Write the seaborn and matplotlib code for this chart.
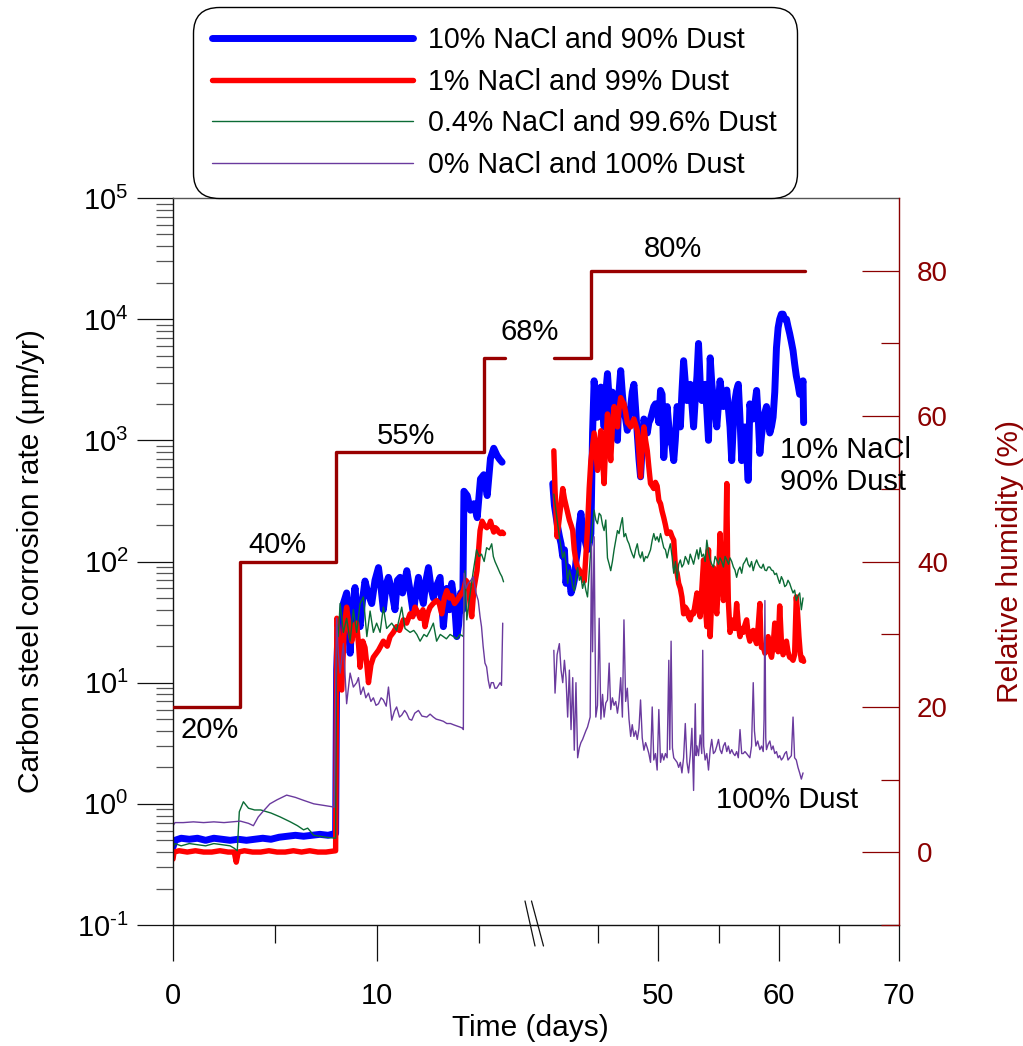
import numpy as np
import matplotlib
matplotlib.use("Agg")
import matplotlib.pyplot as plt
import seaborn as sns
from matplotlib.lines import Line2D
from matplotlib.ticker import FixedLocator, NullFormatter, FuncFormatter

# ---------------- data (time in days, corrosion rate in um/yr) ----------------
blue_left = [(0, 0.44), (0.1, 0.50), (0.4, 0.52), (0.8, 0.51), (1.2, 0.52), (1.6, 0.50), (2.0, 0.52), (2.4, 0.51),
             (2.8, 0.50), (3.2, 0.51), (3.6, 0.50), (4.0, 0.51), (4.4, 0.52), (4.8, 0.51), (5.2, 0.53), (5.6, 0.54),
             (6.0, 0.55), (6.4, 0.54), (6.8, 0.55), (7.2, 0.56), (7.6, 0.55), (7.97, 0.57),
             (8.02, 12.7), (8.1, 30), (8.19, 19.5), (8.35, 45), (8.51, 55), (8.68, 17.5), (8.8, 40), (8.92, 61),
             (9.05, 35), (9.17, 29), (9.3, 50), (9.41, 69), (9.55, 55), (9.74, 45), (9.9, 70), (10.07, 89),
             (10.2, 60), (10.31, 40), (10.45, 65), (10.56, 74), (10.7, 60), (10.88, 40), (11.0, 70), (11.13, 74),
             (11.25, 55), (11.46, 84), (11.6, 60), (11.78, 37), (11.9, 55), (12.03, 74), (12.15, 55), (12.27, 45),
             (12.4, 70), (12.52, 89), (12.65, 60), (12.76, 50), (12.9, 62), (13.09, 74), (13.25, 29), (13.42, 60),
             (13.55, 40), (13.66, 66), (13.8, 45), (13.91, 24), (14.0, 30), (14.1, 55), (14.2, 40), (14.26, 380),
             (14.42, 350), (14.58, 265), (14.75, 300), (14.91, 230), (15.07, 480), (15.23, 520), (15.4, 350),
             (15.56, 710), (15.72, 860), (15.88, 750), (16.0, 700), (16.13, 660)]

red_left = [(0, 0.35), (0.05, 0.40), (0.3, 0.41), (0.7, 0.40), (1.1, 0.41), (1.5, 0.40), (1.9, 0.40), (2.3, 0.41),
            (2.7, 0.40), (3.0, 0.40), (3.1, 0.33), (3.2, 0.40), (3.5, 0.41), (3.9, 0.40), (4.3, 0.40), (4.7, 0.41),
            (5.1, 0.40), (5.5, 0.40), (5.9, 0.41), (6.3, 0.40), (6.7, 0.41), (7.1, 0.40), (7.5, 0.40), (7.97, 0.41),
            (8.03, 34), (8.1, 26), (8.27, 8.7), (8.4, 30), (8.51, 42), (8.64, 28), (8.76, 22), (8.9, 30), (9.0, 31),
            (9.1, 20), (9.17, 13.4), (9.3, 22), (9.41, 19.5), (9.5, 14), (9.58, 10), (9.7, 14), (9.82, 16.2),
            (10.07, 18.5), (10.31, 22), (10.5, 20), (10.64, 24), (10.8, 26), (10.96, 29), (11.1, 27), (11.29, 33),
            (11.45, 31), (11.62, 37), (11.75, 35), (11.86, 42), (12.0, 38), (12.11, 34), (12.25, 40), (12.35, 29),
            (12.5, 38), (12.6, 42), (12.75, 45), (12.92, 47.6), (13.05, 45), (13.17, 37), (13.3, 50), (13.42, 57.5),
            (13.55, 50), (13.66, 52), (13.8, 45), (13.91, 47.6), (14.05, 52), (14.23, 57), (14.35, 70), (14.47, 66),
            (14.56, 45), (14.64, 35), (14.75, 60), (14.9, 84), (15.05, 180), (15.15, 215), (15.25, 200),
            (15.38, 190), (15.5, 200), (15.56, 215), (15.65, 190), (15.72, 175), (15.8, 190), (15.88, 185),
            (15.96, 175), (16.05, 170), (16.13, 175), (16.2, 170)]

green_left = [(0, 0.43), (0.1, 0.47), (0.4, 0.45), (0.8, 0.47), (1.2, 0.46), (1.6, 0.45), (2.0, 0.47), (2.4, 0.46),
              (2.8, 0.45), (3.0, 0.43), (3.15, 0.41), (3.25, 0.86), (3.45, 1.04), (3.7, 0.92), (4.0, 0.89),
              (4.3, 0.89), (4.8, 0.84), (5.25, 0.78), (5.75, 0.71), (6.1, 0.66), (6.4, 0.61), (6.6, 0.63),
              (6.9, 0.55), (7.2, 0.54), (7.5, 0.53), (7.97, 0.52),
              (8.02, 30), (8.1, 24), (8.19, 45), (8.35, 26), (8.51, 34), (8.68, 22), (8.84, 40), (9.0, 26),
              (9.17, 45), (9.33, 51), (9.5, 24), (9.66, 39), (9.82, 26), (9.98, 31), (10.15, 26), (10.31, 42),
              (10.47, 28), (10.72, 31), (10.96, 27), (11.21, 42), (11.37, 28), (11.62, 26), (11.8, 27), (11.95, 25),
              (12.11, 22), (12.3, 25), (12.44, 24), (12.6, 27), (12.76, 31), (12.92, 22), (13.1, 25), (13.25, 24),
              (13.4, 23), (13.58, 25), (13.75, 24), (13.91, 23), (14.07, 25), (14.23, 24), (14.31, 84), (14.4, 33),
              (14.47, 42), (14.6, 60), (14.72, 84), (14.88, 125), (15.0, 110), (15.12, 115), (15.25, 100),
              (15.37, 130), (15.5, 125), (15.62, 140), (15.7, 110), (15.78, 100), (15.9, 90), (16.03, 80),
              (16.12, 75), (16.2, 68)]

purple_left = [(0, 0.66), (0.1, 0.70), (0.5, 0.70), (1.0, 0.71), (1.5, 0.70), (2.0, 0.71), (2.5, 0.70), (2.9, 0.71),
               (3.3, 0.72), (3.7, 0.69), (3.94, 0.66), (4.18, 0.78), (4.45, 0.88), (4.75, 1.0), (5.1, 1.08),
               (5.57, 1.18), (6.0, 1.13), (6.39, 1.07), (6.9, 1.0), (7.4, 0.97), (7.9, 0.94),
               (8.02, 34), (8.1, 18), (8.19, 12), (8.35, 21), (8.51, 6.7), (8.68, 12), (8.84, 9.2), (9.0, 10),
               (9.09, 11), (9.2, 8), (9.33, 9.2), (9.45, 7.5), (9.58, 8.2), (9.7, 7), (9.82, 7.5), (9.95, 6.5),
               (10.07, 6.7), (10.2, 7.5), (10.31, 7.2), (10.45, 6.4), (10.56, 9.2), (10.72, 4.9), (10.85, 5.8),
               (10.96, 6.3), (11.1, 5.2), (11.21, 5.4), (11.35, 5.9), (11.45, 5.6), (11.58, 5.0), (11.7, 4.9),
               (11.85, 5.6), (12.03, 5.9), (12.2, 5.3), (12.44, 5.2), (12.6, 5.5), (12.76, 5.2), (12.9, 5.0),
               (13.09, 4.9), (13.25, 4.8), (13.42, 4.6), (13.6, 4.6), (13.74, 4.5), (13.9, 4.4), (14.07, 4.3),
               (14.2, 4.2), (14.23, 4.1), (14.26, 80), (14.36, 60), (14.47, 66), (14.6, 70), (14.72, 75),
               (14.85, 55), (14.96, 47.6), (15.05, 35), (15.12, 29), (15.2, 20), (15.29, 14.5), (15.37, 13.5),
               (15.45, 10.5), (15.53, 9.0), (15.6, 10), (15.7, 10), (15.78, 9), (15.86, 9.0), (15.95, 9.5),
               (16.03, 10), (16.1, 9.5), (16.16, 31)]

blue_right = [(41.21, 440), (41.35, 290), (41.5, 230), (41.63, 190), (41.77, 160), (41.9, 140), (42.04, 110),
              (42.18, 125), (42.31, 66), (42.45, 90), (42.59, 75), (42.73, 55), (42.87, 61), (43.0, 70), (43.14, 100),
              (43.28, 125), (43.42, 200), (43.55, 250), (43.69, 190), (43.83, 160), (43.96, 140), (44.1, 125),
              (44.25, 140), (44.38, 170), (44.52, 1150), (44.65, 3100), (44.79, 2000), (44.93, 1550), (45.07, 2200),
              (45.21, 2750), (45.35, 1800), (45.48, 1290), (45.62, 2500), (45.76, 3550), (45.9, 2200), (46.03, 1600),
              (46.17, 2500), (46.31, 1900), (46.45, 1400), (46.59, 1000), (46.72, 2500), (46.86, 3760), (47.0, 2400),
              (47.13, 1770), (47.27, 1500), (47.41, 1210), (47.55, 1600), (47.69, 1900), (47.82, 2500), (47.96, 2900),
              (48.1, 1800), (48.24, 1100), (48.38, 700), (48.51, 500), (48.65, 900), (48.79, 1500), (48.93, 1300),
              (49.07, 1150), (49.2, 1400), (49.34, 1500), (49.48, 1700), (49.61, 1900), (49.75, 2000), (49.89, 1800),
              (50.03, 1400), (50.17, 2580), (50.3, 2400), (50.44, 720), (50.58, 1200), (50.72, 1900), (50.86, 1300),
              (50.99, 1000), (51.13, 900), (51.27, 680), (51.4, 1000), (51.55, 1900), (51.68, 1600), (51.82, 1290),
              (51.95, 2500), (52.09, 4540), (52.23, 3000), (52.37, 2130), (52.5, 2500), (52.64, 2900), (52.78, 2000),
              (52.92, 1290), (53.06, 2200), (53.2, 3400), (53.33, 6300), (53.47, 3000), (53.61, 2130), (53.75, 2600),
              (53.88, 2900), (54.02, 1800), (54.16, 1000), (54.3, 4800), (54.43, 3000), (54.57, 2130), (54.71, 1700),
              (54.85, 1290), (54.99, 2000), (55.12, 3100), (55.26, 2400), (55.4, 1900), (55.54, 2200), (55.68, 2600),
              (55.82, 1800), (55.95, 1290), (56.09, 680), (56.23, 1400), (56.36, 2130), (56.5, 2600), (56.64, 2900),
              (56.78, 1500), (56.92, 680), (57.05, 1100), (57.19, 1290), (57.33, 800), (57.46, 467), (57.6, 2000),
              (57.74, 1600), (57.88, 1500), (58.02, 2000), (58.16, 2580), (58.3, 1500), (58.43, 780), (58.57, 1100),
              (58.71, 1400), (58.85, 1700), (58.98, 1900), (59.12, 1500), (59.26, 1150), (59.4, 1300), (59.53, 1550),
              (59.67, 2500), (59.81, 5800), (59.95, 8500), (60.08, 10000), (60.22, 11000), (60.36, 11000),
              (60.5, 10000), (60.64, 10000), (60.77, 8700), (60.91, 7600), (61.05, 6500), (61.19, 5500),
              (61.32, 4300), (61.46, 3400), (61.6, 2900), (61.74, 2400), (61.88, 2600), (62.02, 3100), (62.07, 1400)]

red_right = [(41.3, 820), (41.4, 387), (41.57, 160), (41.76, 230), (42.04, 400), (42.18, 330), (42.31, 290),
             (42.45, 250), (42.59, 220), (42.73, 200), (42.87, 180), (43.0, 125), (43.14, 100), (43.28, 89),
             (43.42, 85), (43.55, 80), (43.69, 75), (43.83, 69), (43.96, 110), (44.1, 190), (44.24, 400),
             (44.38, 680), (44.52, 900), (44.65, 1150), (44.79, 800), (44.93, 565), (45.07, 900), (45.21, 1200),
             (45.35, 700), (45.48, 440), (45.62, 1000), (45.76, 1650), (45.9, 1000), (46.03, 680), (46.17, 1300),
             (46.31, 1900), (46.45, 1600), (46.59, 1290), (46.72, 1800), (46.86, 2250), (47.0, 2100), (47.13, 2000),
             (47.27, 1700), (47.41, 1400), (47.55, 1350), (47.69, 1290), (47.82, 1400), (47.96, 1500), (48.1, 1350),
             (48.24, 1200), (48.38, 800), (48.51, 500), (48.65, 900), (48.79, 1290), (48.93, 1000), (49.07, 820),
             (49.2, 600), (49.34, 440), (49.48, 420), (49.61, 400), (49.75, 450), (49.89, 420), (50.03, 320),
             (50.17, 300), (50.3, 260), (50.44, 230), (50.58, 200), (50.72, 170), (50.86, 175), (50.99, 175),
             (51.13, 160), (51.27, 150), (51.41, 89), (51.55, 80), (51.68, 66), (51.82, 60), (51.95, 51), (52.09, 37),
             (52.23, 42), (52.37, 40), (52.5, 35), (52.64, 33), (52.78, 38), (52.92, 37), (53.06, 45), (53.2, 55),
             (53.33, 40), (53.47, 35), (53.61, 60), (53.75, 103), (53.88, 45), (54.02, 29), (54.09, 80), (54.16, 125),
             (54.23, 50), (54.3, 24), (54.43, 50), (54.57, 89), (54.71, 45), (54.85, 37), (54.99, 70), (55.12, 170),
             (55.26, 80), (55.4, 47.6), (55.54, 60), (55.68, 440), (55.75, 100), (55.81, 47), (55.95, 26), (56.09, 30),
             (56.23, 33), (56.36, 28), (56.5, 45), (56.64, 30), (56.78, 24), (56.92, 28), (57.05, 26), (57.19, 30),
             (57.33, 33), (57.46, 25), (57.6, 22), (57.74, 26), (57.88, 27), (58.02, 23), (58.16, 21), (58.3, 30),
             (58.43, 45), (58.5, 25), (58.57, 19.5), (58.71, 20), (58.85, 17.5), (58.98, 20), (59.12, 24),
             (59.26, 18), (59.4, 16.2), (59.53, 20), (59.67, 31), (59.81, 20), (59.95, 18), (60.02, 30), (60.08, 43),
             (60.22, 22), (60.36, 17), (60.5, 19), (60.64, 22), (60.77, 18), (60.91, 16.2), (61.05, 16), (61.19, 15.3),
             (61.32, 17), (61.46, 51), (61.55, 40), (61.68, 24), (61.78, 18), (61.88, 15.3), (61.98, 16), (62.07, 15)]

green_right = [(41.3, 360), (41.4, 300), (41.5, 250), (41.63, 200), (41.76, 160), (41.9, 130), (42.04, 107),
               (42.18, 120), (42.31, 97), (42.45, 66), (42.59, 85), (42.73, 75), (42.87, 62), (43.0, 57), (43.14, 75),
               (43.28, 89), (43.42, 70), (43.55, 75), (43.69, 60), (43.83, 69), (43.96, 58), (44.1, 51), (44.24, 80),
               (44.38, 125), (44.52, 200), (44.65, 265), (44.79, 220), (44.93, 205), (45.07, 250), (45.21, 240),
               (45.35, 200), (45.48, 180), (45.62, 220), (45.76, 107), (45.9, 95), (46.03, 84), (46.17, 100),
               (46.31, 125), (46.45, 150), (46.59, 180), (46.72, 170), (46.86, 200), (47.0, 230), (47.13, 160),
               (47.27, 170), (47.41, 150), (47.55, 140), (47.69, 125), (47.82, 115), (47.96, 107), (48.1, 125),
               (48.24, 140), (48.38, 115), (48.51, 107), (48.65, 120), (48.79, 100), (48.93, 110), (49.07, 107),
               (49.2, 115), (49.34, 125), (49.48, 150), (49.61, 170), (49.75, 150), (49.89, 160), (50.03, 145),
               (50.17, 170), (50.3, 150), (50.44, 130), (50.58, 125), (50.72, 107), (50.86, 125), (50.99, 140),
               (51.13, 110), (51.27, 80), (51.41, 100), (51.55, 70), (51.68, 95), (51.82, 103), (51.95, 90),
               (52.09, 95), (52.23, 110), (52.37, 103), (52.5, 95), (52.64, 115), (52.78, 105), (52.92, 95),
               (53.06, 110), (53.2, 125), (53.33, 105), (53.47, 130), (53.61, 110), (53.75, 115), (53.88, 100),
               (54.02, 150), (54.16, 120), (54.3, 103), (54.43, 95), (54.57, 90), (54.71, 110), (54.85, 103),
               (54.99, 95), (55.12, 107), (55.26, 100), (55.4, 90), (55.54, 110), (55.68, 103), (55.82, 95),
               (55.95, 107), (56.09, 100), (56.23, 90), (56.36, 85), (56.5, 74), (56.64, 85), (56.78, 90), (56.92, 80),
               (57.05, 95), (57.19, 100), (57.33, 107), (57.46, 95), (57.6, 90), (57.74, 100), (57.88, 84),
               (58.02, 95), (58.16, 103), (58.3, 95), (58.43, 90), (58.57, 88), (58.71, 95), (58.85, 85), (58.98, 84),
               (59.12, 90), (59.26, 90), (59.4, 85), (59.53, 84), (59.67, 78), (59.81, 80), (59.95, 72), (60.08, 66),
               (60.22, 75), (60.36, 70), (60.5, 62), (60.64, 64), (60.77, 70), (60.91, 66), (61.05, 60), (61.19, 55),
               (61.32, 58), (61.46, 47.6), (61.6, 52), (61.74, 55), (61.88, 40), (62.02, 50)]

purple_right = [(41.3, 18.5), (41.4, 8.2), (41.57, 17), (41.76, 21), (41.9, 12.7), (42.04, 10), (42.18, 15.3),
                (42.31, 11), (42.45, 5.2), (42.59, 12.7), (42.73, 4.1), (42.87, 11), (43.0, 2.77), (43.14, 10),
                (43.28, 2.4), (43.42, 2.9), (43.55, 3.2), (43.69, 3.4), (43.83, 3.7), (43.96, 4.0), (44.1, 4.3),
                (44.32, 5.2), (44.43, 140), (44.52, 18), (44.65, 160), (44.79, 5.2), (44.93, 6.5), (45.07, 34),
                (45.21, 5.0), (45.35, 8.0), (45.48, 5.2), (45.62, 6.8), (45.76, 7.2), (45.9, 14.5), (46.03, 6),
                (46.17, 7.5), (46.31, 6.5), (46.45, 7), (46.59, 5.6), (46.72, 7), (46.86, 11), (47.0, 5.2),
                (47.13, 33), (47.27, 7), (47.41, 9), (47.55, 5), (47.69, 3.6), (47.82, 4.5), (47.96, 3.6), (48.1, 4.0),
                (48.24, 3.4), (48.38, 4.2), (48.51, 7.2), (48.65, 3.5), (48.79, 2.77), (48.93, 3.2), (49.07, 2.9),
                (49.2, 2.6), (49.34, 2.2), (49.48, 6.3), (49.61, 2.3), (49.75, 2.6), (49.89, 1.9), (50.03, 6),
                (50.17, 2.2), (50.3, 2.6), (50.44, 2.3), (50.58, 2.6), (50.72, 2.4), (50.86, 15.3), (50.94, 2.8),
                (51.05, 22), (51.16, 2.9), (51.27, 2.4), (51.41, 2.3), (51.55, 2.2), (51.68, 2.0), (51.82, 2.2),
                (51.95, 1.8), (52.09, 2.4), (52.23, 4.6), (52.37, 2.2), (52.5, 1.8), (52.64, 2.5), (52.78, 4.2),
                (52.92, 1.29), (53.06, 6.7), (53.13, 2.5), (53.2, 3.0), (53.33, 2.5), (53.47, 3.7), (53.6, 2.6),
                (53.68, 18.5), (53.76, 3.0), (53.88, 2.3), (54.02, 2.6), (54.16, 1.9), (54.3, 2.8), (54.43, 3.4),
                (54.57, 2.6), (54.71, 2.7), (54.85, 3.0), (54.99, 3.4), (55.12, 2.8), (55.26, 2.6), (55.4, 3.0),
                (55.54, 3.2), (55.68, 2.7), (55.81, 3.0), (55.95, 2.6), (56.09, 2.8), (56.23, 2.6), (56.36, 2.5),
                (56.5, 2.7), (56.64, 2.4), (56.78, 4.1), (56.92, 2.6), (57.05, 2.6), (57.19, 2.7), (57.33, 2.6),
                (57.46, 2.5), (57.6, 2.4), (57.74, 3.0), (57.88, 10), (57.98, 4.0), (58.1, 3.0), (58.25, 3.3),
                (58.43, 2.8), (58.57, 3.0), (58.71, 2.7), (58.78, 5), (58.85, 47.6), (58.92, 3.5), (58.98, 2.8),
                (59.12, 3.1), (59.26, 3.3), (59.4, 2.8), (59.53, 3.0), (59.67, 2.6), (59.81, 2.7), (59.95, 2.4),
                (60.08, 2.5), (60.22, 2.3), (60.36, 2.4), (60.5, 2.6), (60.64, 2.7), (60.77, 2.3), (60.91, 2.4),
                (61.05, 2.5), (61.19, 5.2), (61.32, 2.4), (61.46, 2.3), (61.6, 2.0), (61.74, 1.8), (61.88, 1.6),
                (62.02, 1.8)]

# relative humidity steps (%)
rh_t_left = [0, 3.28, 7.99, 15.25, 16.27]
rh_left = [20, 40, 55, 68, 68]
rh_t_right = [41.32, 44.38, 62.15]
rh_right = [68, 80, 80]

series_labels = ["10% NaCl and 90% Dust", "1% NaCl and 99% Dust",
                 "0.4% NaCl and 99.6% Dust", "0% NaCl and 100% Dust"]
series_colors = ["#0000FF", "#FF0000", "#0B6B35", "#6A3A9E"]
series_widths = [5.0, 3.9, 1.0, 1.0]

left_ticks = [0, 10]
right_ticks = [50, 60, 70]
rate_ticks = [1e-1, 1e0, 1e1, 1e2, 1e3, 1e4, 1e5]
rh_ticks = [0, 20, 40, 60, 80]

# ---------------- style ----------------
sns.set_style("ticks")
plt.rcParams["font.family"] = ["Liberation Sans", "DejaVu Sans"]
plt.rcParams["mathtext.fontset"] = "custom"
plt.rcParams["mathtext.rm"] = "Liberation Sans"
plt.rcParams["mathtext.it"] = "Liberation Sans:italic"
plt.rcParams["mathtext.bf"] = "Liberation Sans:bold"
plt.rcParams["axes.unicode_minus"] = False
for key in ("text.color", "axes.labelcolor", "xtick.color", "ytick.color", "axes.edgecolor"):
    plt.rcParams[key] = "black"

DARKRED = "#8B0000"
RHLINE = "#990000"
W, H = 1023, 1046
fig = plt.figure(figsize=(W / 100, H / 100), dpi=100)


def fx(px):
    return px / W


def fy(py):
    return 1 - py / H


X0, XB, X1 = 173, 537, 899
Y0, Y1 = 198, 925
axL = fig.add_axes([fx(X0), fy(Y1), (XB - X0) / W, (Y1 - Y0) / H])
axR = fig.add_axes([fx(XB), fy(Y1), (X1 - XB) / W, (Y1 - Y0) / H])

left_sets = [blue_left, red_left, green_left, purple_left]
right_sets = [blue_right, red_right, green_right, purple_right]
for ax, sets in ((axL, left_sets), (axR, right_sets)):
    for data, col, lw in zip(sets, series_colors, series_widths):
        t, v = zip(*data)
        sns.lineplot(x=list(t), y=list(v), ax=ax, color=col, linewidth=lw, estimator=None,
                     sort=False, legend=False, solid_capstyle="round", solid_joinstyle="round")
    ax.set_yscale("log")
    ax.set_ylim(0.1, 1e5)

axL.set_xlim(0, 17.84)
axR.set_xlim(39.9, 70)

# relative humidity twin axes
rhL = axL.twinx()
rhR = axR.twinx()
sns.lineplot(x=rh_t_left, y=rh_left, ax=rhL, color=RHLINE, linewidth=2.4, drawstyle="steps-post",
             estimator=None, sort=False, legend=False)
sns.lineplot(x=rh_t_right, y=rh_right, ax=rhR, color=RHLINE, linewidth=2.4, drawstyle="steps-post",
             estimator=None, sort=False, legend=False)
for a in (rhL, rhR):
    a.set_ylim(-10, 90)
    a.set_ylabel("")
    a.set_xlabel("")
rhL.axis("off")
rhL.set_xlim(axL.get_xlim())
rhR.set_xlim(axR.get_xlim())

# ---------------- axes decoration ----------------
for ax in (axL, axR):
    ax.set_xlabel("")
    ax.set_ylabel("")
    for s in ax.spines.values():
        s.set_linewidth(1.0)
        s.set_color("#111111")
    ax.tick_params(axis="x", which="major", direction="out", length=26, width=0.9, color="#111111",
                   labelsize=21, pad=15, top=False)
    ax.tick_params(axis="x", which="minor", direction="out", length=13, width=0.9, color="#111111",
                   top=False)
axL.spines["top"].set_color("#555555")
axR.spines["top"].set_color("#555555")

axL.spines["right"].set_visible(False)
axR.spines["left"].set_visible(False)
axR.spines["right"].set_visible(False)

axL.xaxis.set_major_locator(FixedLocator(left_ticks))
axL.xaxis.set_minor_locator(FixedLocator([5, 15]))
axR.xaxis.set_major_locator(FixedLocator(right_ticks))
axR.xaxis.set_minor_locator(FixedLocator([45, 55, 65]))
axL.set_xticklabels([str(t) for t in left_ticks])
axR.set_xticklabels([str(t) for t in right_ticks])

minor_rate = [m * d for d in rate_ticks[:-1] for m in range(2, 10)]
axL.yaxis.set_major_locator(FixedLocator(rate_ticks))
axL.yaxis.set_minor_locator(FixedLocator(minor_rate))
axL.yaxis.set_minor_formatter(NullFormatter())
axL.yaxis.set_major_formatter(FuncFormatter(
    lambda v, p: r"$10^{\text{%d}}$" % int(round(np.log10(v)))))
axL.tick_params(axis="y", which="major", direction="out", length=26, width=0.9, color="#111111",
                labelsize=21, pad=6, right=False)
axL.tick_params(axis="y", which="minor", direction="out", length=12.5, width=0.9, color="#555555", right=False)
axR.yaxis.set_major_locator(FixedLocator(rate_ticks))
axR.yaxis.set_minor_locator(FixedLocator(minor_rate))
axR.tick_params(axis="y", which="both", left=False, right=False, labelleft=False, labelright=False)

for s in ("left", "top", "bottom"):
    rhR.spines[s].set_visible(False)
rhR.spines["right"].set_color(DARKRED)
rhR.spines["right"].set_linewidth(1.0)
rhR.yaxis.set_major_locator(FixedLocator(rh_ticks))
rhR.yaxis.set_minor_locator(FixedLocator([-10, 10, 30, 50, 70]))
rhR.set_yticklabels([str(t) for t in rh_ticks])
rhR.tick_params(axis="y", which="major", direction="in", length=26.5, width=0.9, color=DARKRED,
                labelcolor=DARKRED, labelsize=20, pad=13)
rhR.tick_params(axis="y", which="minor", direction="in", length=13, width=0.9, color=DARKRED)

axL.set_ylabel("Carbon steel corrosion rate (\u03bcm/yr)", fontsize=21.5)
axL.yaxis.set_label_coords(-0.352, 0.5)
rhR.set_ylabel("Relative humidity (%)", fontsize=21.5, color=DARKRED)
rhR.yaxis.set_label_coords(1.268, 0.5)
fig.text(fx(530), fy(1028), "Time (days)", fontsize=21.5, ha="center", va="center")

# axis break marks
for x_a, x_b in ((525, 535), (531.5, 543.5)):
    fig.add_artist(Line2D([fx(x_a), fx(x_b)], [fy(901), fy(946)], color="#111111", lw=0.9))

# annotations
annos = [("20%", 210, 730), ("40%", 277, 545), ("55%", 406, 436), ("68%", 530, 332), ("80%", 673, 249)]
for txt, px, py in annos:
    fig.text(fx(px), fy(py), txt, fontsize=21, ha="center", va="center")
fig.text(fx(780), fy(466), "10% NaCl\n90% Dust", fontsize=21, ha="left", va="center", linespacing=1.15)
fig.text(fx(787), fy(800), "100% Dust", fontsize=21, ha="center", va="center")

# legend
handles = [Line2D([], [], color=c, lw=w, solid_capstyle="round") for c, w in zip(series_colors, series_widths)]
leg = fig.legend(handles, series_labels, loc="upper left", bbox_to_anchor=(fx(193), fy(7)),
                 bbox_transform=fig.transFigure, borderaxespad=0, fontsize=20.6, handlelength=7.0,
                 handletextpad=0.55, labelspacing=0.47, borderpad=0.68, frameon=True, fancybox=True,
                 framealpha=1, edgecolor="black", facecolor="white")
leg.get_frame().set_boxstyle("round", pad=0, rounding_size=0.9)
leg.get_frame().set_linewidth(1.0)

fig.savefig("out.png", dpi=100)
